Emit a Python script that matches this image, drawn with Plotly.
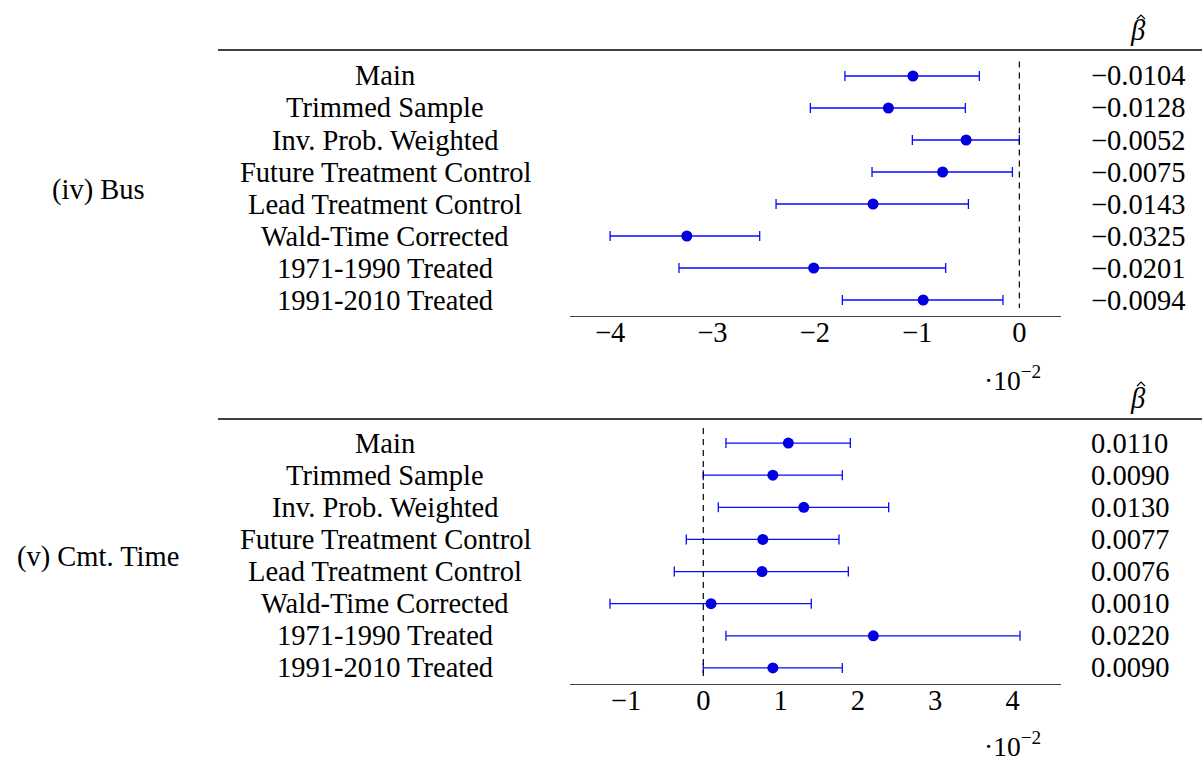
import plotly.graph_objects as go

# Data
specs = ["Main", "Trimmed Sample", "Inv. Prob. Weighted", "Future Treatment Control",
         "Lead Treatment Control", "Wald-Time Corrected", "1971-1990 Treated", "1991-2010 Treated"]

bus_beta = [-0.0104, -0.0128, -0.0052, -0.0075, -0.0143, -0.0325, -0.0201, -0.0094]
bus_lo = [-0.01705, -0.02043, -0.01046, -0.01440, -0.02378, -0.04000, -0.03327, -0.01730]
bus_hi = [-0.00391, -0.00528, 0.00000, -0.00068, -0.00498, -0.02538, -0.00720, -0.00160]

cmt_beta = [0.0110, 0.0090, 0.0130, 0.0077, 0.0076, 0.0010, 0.0220, 0.0090]
cmt_lo = [0.00293, 0.00000, 0.00194, -0.00220, -0.00375, -0.01207, 0.00293, 0.00000]
cmt_hi = [0.01902, 0.01798, 0.02398, 0.01755, 0.01876, 0.01397, 0.04097, 0.01798]

panel_names = ["(iv) Bus", "(v) Cmt. Time"]
bus_ticks = [-4, -3, -2, -1, 0]
cmt_ticks = [-1, 0, 1, 2, 3, 4]
SCALE = 100  # axis shown in units of 10^-2

W, H = 1202, 761
FONT = "Liberation Serif"
FS = 28.5
BLUE_LINE = "rgb(10,10,255)"
BLUE_DOT = "rgb(0,0,225)"

def px(x):
    return x / W

def py(y):
    return 1 - y / H

fig = go.Figure()

panels = [
    dict(beta=bus_beta, lo=bus_lo, hi=bus_hi, ticks=bus_ticks, xa="x", ya="y",
         xr=[-4.392, 0.404], top=60, bottom=316, rule=50, dash=(-0.45, 7.25),
         name_y=190, hat_y=31, exp_y=378),
    dict(beta=cmt_beta, lo=cmt_lo, hi=cmt_hi, ticks=cmt_ticks, xa="x2", ya="y2",
         xr=[-1.724, 4.623], top=427, bottom=684, rule=419, dash=(-0.47, 7.25),
         name_y=557, hat_y=398, exp_y=744),
]

ann = []
shapes = []
layout_axes = {}
for k, p in enumerate(panels):
    xs = [b * SCALE for b in p["beta"]]
    plus = [h * SCALE - x for h, x in zip(p["hi"], xs)]
    minus = [x - l * SCALE for l, x in zip(p["lo"], xs)]
    rows = list(range(len(specs)))
    fig.add_trace(go.Scatter(
        x=xs, y=rows, mode="markers", xaxis=p["xa"], yaxis=p["ya"],
        marker=dict(color=BLUE_DOT, size=11, line=dict(width=0)),
        error_x=dict(type="data", symmetric=False, array=plus, arrayminus=minus,
                     color=BLUE_LINE, thickness=1.3, width=5),
        showlegend=False, hoverinfo="skip"))
    suffix = "" if k == 0 else "2"
    layout_axes["xaxis" + suffix] = dict(
        domain=[px(570), px(1060.7)], range=p["xr"], anchor="y" + suffix,
        showgrid=False, zeroline=False, showline=True, linecolor="#444", linewidth=1.2,
        tickmode="array", tickvals=p["ticks"], ticks="", ticklen=0, ticklabelstandoff=-9,
        tickfont=dict(family=FONT, size=FS, color="black"))
    layout_axes["yaxis" + suffix] = dict(
        domain=[py(p["bottom"]), py(p["top"])], range=[7.5, -0.5], anchor="x" + suffix,
        visible=False)
    # row labels and beta values
    for i, s in enumerate(specs):
        ann.append(dict(text=s, x=px(385), y=i, xref="paper", yref="y" + suffix,
                        xanchor="center", yanchor="middle", showarrow=False,
                        font=dict(family=FONT, size=FS, color="black")))
        b = p["beta"][i]
        txt = ("\u2212" if b < 0 else "") + f"{abs(b):.4f}"
        ann.append(dict(text=txt, x=px(1089), y=i, xref="paper", yref="y" + suffix,
                        xanchor="left", yanchor="middle", showarrow=False,
                        font=dict(family=FONT, size=FS, color="black")))
    ann.append(dict(text=panel_names[k], x=px(98), y=py(p["name_y"]), xref="paper", yref="paper",
                    xanchor="center", yanchor="middle", showarrow=False,
                    font=dict(family=FONT, size=FS, color="black")))
    ann.append(dict(text="<i>\u03b2</i>", x=px(1138), y=py(p["hat_y"]), xref="paper", yref="paper",
                    xanchor="center", yanchor="middle", showarrow=False,
                    font=dict(family=FONT, size=FS, color="black")))
    # hat accent drawn as a small caret
    hx, hy = 1141, p["hat_y"] - 15
    shapes.append(dict(type="path", xref="paper", yref="paper",
                       path=f"M {px(hx-4)} {py(hy+3)} L {px(hx)} {py(hy-1)} L {px(hx+4)} {py(hy+3)}",
                       line=dict(color="black", width=1.1)))
    ann.append(dict(text="\u00b710<sup>\u22122</sup>", x=px(1012), y=py(p["exp_y"]), xref="paper", yref="paper",
                    xanchor="center", yanchor="middle", showarrow=False,
                    font=dict(family=FONT, size=FS - 1, color="black")))
    shapes.append(dict(type="line", xref="paper", yref="paper", x0=px(218), x1=1.0,
                       y0=py(p["rule"]), y1=py(p["rule"]), line=dict(color="black", width=1.6)))
    shapes.append(dict(type="line", xref="x" + suffix, yref="y" + suffix, x0=0, x1=0,
                       y0=p["dash"][0], y1=p["dash"][1],
                       line=dict(color="black", width=1.2, dash="6px,5px")))

fig.update_layout(width=W, height=H, margin=dict(l=0, r=0, t=0, b=0),
                  paper_bgcolor="white", plot_bgcolor="white",
                  annotations=ann, shapes=shapes, **layout_axes)

fig.write_html("out.html")
